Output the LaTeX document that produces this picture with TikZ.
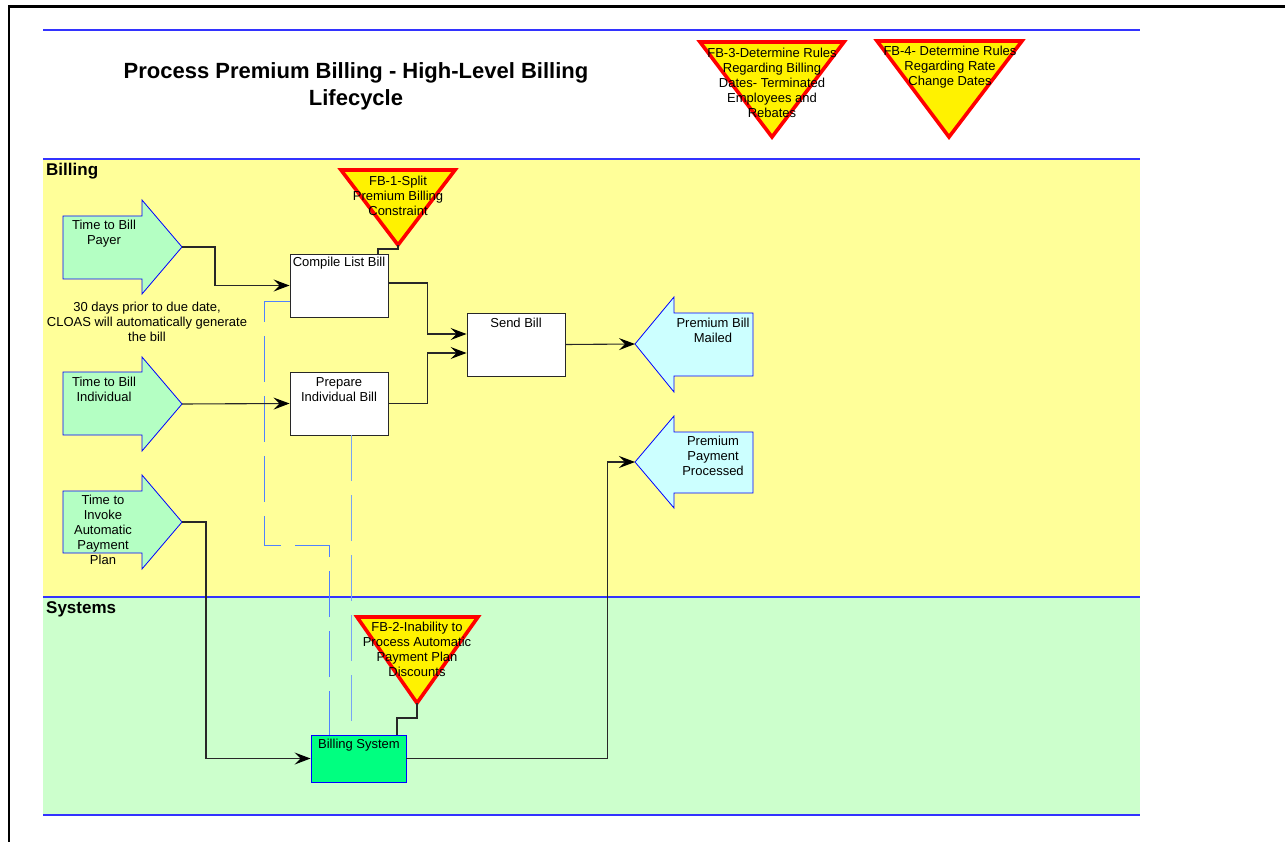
\documentclass[tikz,border=0pt]{standalone}
\usepackage{fontspec}
\setmainfont{Liberation Sans}
\usetikzlibrary{arrows.meta}
\definecolor{laneyellow}{RGB}{255,255,153}
\definecolor{lanegreen}{RGB}{204,255,204}
\definecolor{laneblue}{RGB}{51,51,255}
\definecolor{arrgreen}{RGB}{180,255,195}
\definecolor{arrcyan}{RGB}{204,255,255}
\definecolor{sysgreen}{RGB}{0,255,128}
\definecolor{connc}{RGB}{40,40,40}
\definecolor{dasha}{RGB}{80,130,255}
\definecolor{dashb}{RGB}{120,165,245}
\tikzset{
  lane/.style={draw=laneblue, line width=1.3pt},
  procbox/.style={draw=connc, fill=white, line width=0.9pt, inner sep=0pt},
  sysbox/.style={draw=blue, fill=sysgreen, line width=0.9pt, inner sep=0pt},
  blockarr/.style={draw=blue, line width=0.8pt},
  tri/.style={draw=red, fill=yellow, line width=3.6pt, line join=miter},
  txt/.style={font=\fontsize{13}{15}\selectfont, align=center, inner sep=0pt, text=black},
  conn/.style={draw=connc, line width=1.1pt, -{Stealth[length=16pt,width=12pt,inset=6pt,color=black]}},
  link/.style={draw=connc, line width=1.1pt},
  dshA/.style={draw=dasha, line width=1pt, dash pattern=on 46pt off 14pt},
  dshB/.style={draw=dashb, line width=1pt, dash pattern=on 46pt off 14pt},
}
\begin{document}
\begin{tikzpicture}[x=1pt,y=-1pt]
\useasboundingbox (0,0) rectangle (1285,842);
% page border
\draw[line width=2.5pt] (8,6.5) -- (1285,6.5);
\draw[line width=2.5pt] (8.8,6) -- (8.8,842);
% lanes
\fill[laneyellow] (43,159) rectangle (1140,597);
\fill[lanegreen] (43,597) rectangle (1140,815);
\draw[lane] (43,30) -- (1140,30);
\draw[lane] (43,159) -- (1140,159);
\draw[lane] (43,597) -- (1140,597);
\draw[lane] (43,815) -- (1140,815);
\node[font=\bfseries\fontsize{17}{20}\selectfont, anchor=west, inner sep=0pt] (lbill) at (46,171) {Billing};
\node[font=\bfseries\fontsize{17}{20}\selectfont, anchor=west, inner sep=0pt] (lsys) at (46,609) {Systems};
% title
\node[font=\bfseries\fontsize{22}{27}\selectfont, align=center, inner sep=0pt] (title) at (356,86.5) {Process Premium Billing - High-Level Billing\\Lifecycle};
% block arrows (right)
\draw[blockarr, fill=arrgreen] (63,216) -- (142,216) -- (142,200) -- (182,247) -- (142,294) -- (142,279) -- (63,279) -- cycle;
\coordinate (tipP) at (182,247);
\node[txt] (tP) at (104,233.5) {Time to Bill\\Payer};
\draw[blockarr, fill=arrgreen] (63,372) -- (142,372) -- (142,357) -- (182,404) -- (142,451) -- (142,435) -- (63,435) -- cycle;
\coordinate (tipI) at (182,404);
\node[txt] (tI) at (104,389.5) {Time to Bill\\Individual};
\draw[blockarr, fill=arrgreen] (63,491) -- (142,491) -- (142,475) -- (182,522) -- (142,569) -- (142,553) -- (63,553) -- cycle;
\coordinate (tipV) at (182,522);
\node[txt] (tV) at (103,530) {Time to\\Invoke\\Automatic\\Payment\\Plan};
% block arrows (left)
\draw[blockarr, fill=arrcyan] (753,313) -- (674,313) -- (674,297) -- (635,344) -- (674,392) -- (674,376) -- (753,376) -- cycle;
\coordinate (tipM) at (635,344);
\node[txt] (tM) at (713,330.5) {Premium Bill\\Mailed};
\draw[blockarr, fill=arrcyan] (753,432) -- (674,432) -- (674,416) -- (635,462) -- (674,508) -- (674,493) -- (753,493) -- cycle;
\coordinate (tipPP) at (635,462);
\node[txt] (tPP) at (713,456) {Premium\\Payment\\Processed};
% note
\node[txt] (note) at (147,322) {30 days prior to due date,\\CLOAS will automatically generate\\the bill};
% process boxes
\node[procbox, minimum width=98pt, minimum height=63pt] (clb) at (339,285.5) {};
\node[txt] (tclb) at (339,263) {Compile List Bill};
\node[procbox, minimum width=98pt, minimum height=63pt] (prep) at (339,403.5) {};
\node[txt] (tprep) at (339,389.5) {Prepare\\Individual Bill};
\node[procbox, minimum width=98pt, minimum height=63pt] (send) at (516,344.5) {};
\node[txt] (tsend) at (516,323) {Send Bill};
\node[sysbox, minimum width=95pt, minimum height=47pt] (bsys) at (358.5,758.5) {};
\node[txt] (tbsys) at (359,745) {Billing System};
% dashed links
\draw[dshA] ([yshift=-16.5pt]clb.west) -| (264,545) -| ([xshift=-29.5pt]bsys.north);
\draw[dshB] ([xshift=12pt]prep.south) -- ([xshift=-7.5pt]bsys.north);
% connectors
\draw[conn] (tipP) -- ++(33,0) |- (clb.west);
\draw[conn] (tipI) -- (prep.west);
\draw[conn] ([yshift=2.5pt]clb.east) -- ++(39,0) |- ([yshift=10.5pt]send.west);
\draw[conn] (prep.east) -- ++(39,0) |- ([yshift=-8.5pt]send.west);
\draw[conn] (send.east) -- (tipM);
\draw[conn] (bsys.east) -- ++(201,0) |- (tipPP);
\draw[conn] (tipV) -- ++(24,0) |- (bsys.west);
% triangles
\draw[tri] (341,170) -- (455,170) -- (398,245) -- cycle;
\coordinate (fb1) at (398,245);
\draw[tri] (357,617) -- (478,617) -- (417,703) -- cycle;
\coordinate (fb2) at (417,703);
\draw[tri] (700,42) -- (844,42) -- (772,137) -- cycle;
\draw[tri] (877,41) -- (1022,41) -- (949,137) -- cycle;
\draw[link] (fb1) -- ++(0,4) -| ([xshift=39pt]clb.north);
\draw[link] (fb2) -- ++(0,15) -| ([xshift=38.5pt]bsys.north);
\node[txt] (t1) at (398,196) {FB-1-Split\\Premium Billing\\Constraint};
\node[txt] (t2) at (417,649.5) {FB-2-Inability to\\Process Automatic\\Payment Plan\\Discounts};
\node[txt] (t3) at (772,83) {FB-3-Determine Rules\\Regarding Billing\\Dates- Terminated\\Employees and\\Rebates};
\node[txt] (t4) at (950,67) {FB-4- Determine Rules\\Regarding Rate\\Change Dates};
\end{tikzpicture}
\end{document}
